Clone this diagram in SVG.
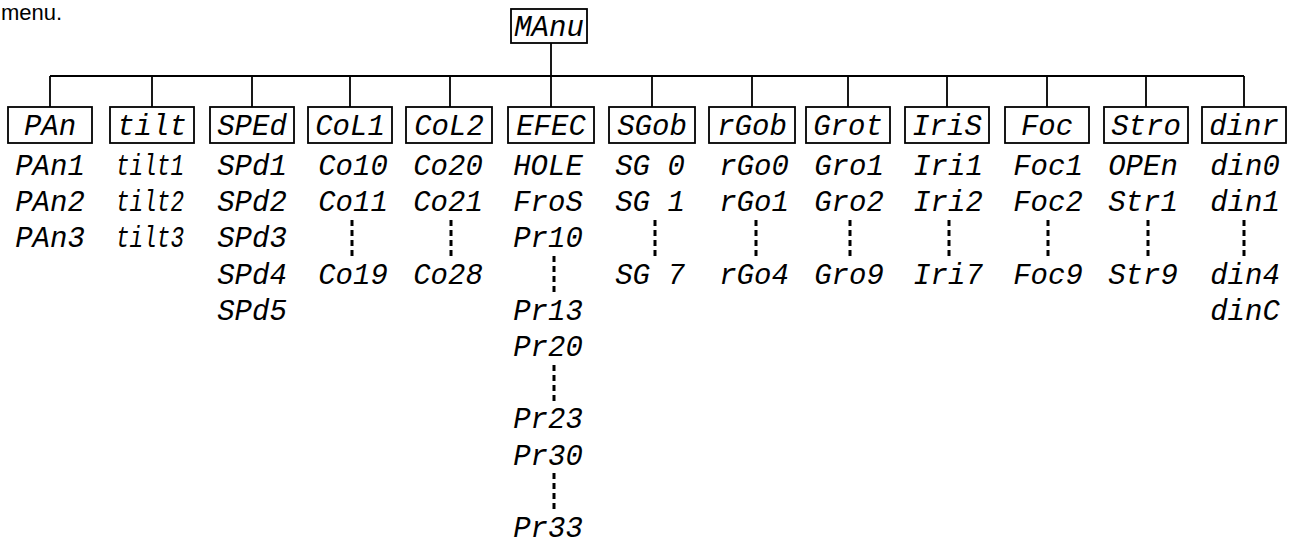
<svg xmlns="http://www.w3.org/2000/svg" width="1289" height="544" viewBox="0 0 1289 544">
<style>
.t{font-family:"Liberation Mono","DejaVu Sans Mono",monospace;font-style:italic;font-size:29px;fill:#000;text-anchor:middle}
.p{font-family:"Liberation Sans",Arial,sans-serif;font-size:22px;fill:#000}
.box{fill:#fff;stroke:#000;stroke-width:1.8}
.ln{stroke:#000;stroke-width:1.8;fill:none}
.dot{stroke:#000;stroke-width:3;stroke-dasharray:6 4;fill:none}
</style>
<rect width="1289" height="544" fill="#fff"/>
<text class="p" x="1" y="20">menu.</text>
<g id="connectors">
<path class="ln" d="M551 43V107M50 76H1244M50 76V107M152 76V107M252 76V107M350 76V107M450 76V107M652 76V107M752 76V107M848 76V107M947 76V107M1047 76V107M1146 76V107M1244 76V107"/>
</g>
<g id="node-manu"><rect class="box" x="511" y="9" width="76" height="34"/><text class="t" x="549" y="36">MAnu</text></g>
<g id="node-pan"><rect class="box" x="8" y="107" width="84" height="36"/><text class="t" x="50" y="135">PAn</text>
<text class="t" x="50" y="175">PAn1</text><text class="t" x="50" y="211.2">PAn2</text><text class="t" x="50" y="247.4">PAn3</text></g>
<g id="node-tilt"><rect class="box" x="110" y="107" width="84" height="36"/><text class="t" x="152" y="135">tilt</text>
<text class="t" x="150" y="175" textLength="68" lengthAdjust="spacingAndGlyphs">tilt1</text><text class="t" x="150" y="211.2" textLength="68" lengthAdjust="spacingAndGlyphs">tilt2</text><text class="t" x="150" y="247.4" textLength="68" lengthAdjust="spacingAndGlyphs">tilt3</text></g>
<g id="node-sped"><rect class="box" x="210" y="107" width="84" height="36"/><text class="t" x="252" y="135">SPEd</text>
<text class="t" x="252" y="175">SPd1</text><text class="t" x="252" y="211.2">SPd2</text><text class="t" x="252" y="247.4">SPd3</text><text class="t" x="252" y="283.6">SPd4</text><text class="t" x="252" y="319.8">SPd5</text></g>
<g id="node-col1"><rect class="box" x="308" y="107" width="84" height="36"/><text class="t" x="350" y="135">CoL1</text>
<text class="t" x="353" y="175">Co10</text><text class="t" x="353" y="211.2">Co11</text><line class="dot" x1="352" y1="220" x2="352" y2="256"/><text class="t" x="353" y="283.6">Co19</text></g>
<g id="node-col2"><rect class="box" x="406" y="107" width="86" height="36"/><text class="t" x="449" y="135">CoL2</text>
<text class="t" x="448" y="175">Co20</text><text class="t" x="448" y="211.2">Co21</text><line class="dot" x1="451" y1="220" x2="451" y2="256"/><text class="t" x="448" y="283.6">Co28</text></g>
<g id="node-efec"><rect class="box" x="508" y="107" width="86" height="36"/><text class="t" x="551" y="135">EFEC</text>
<text class="t" x="548" y="175">HOLE</text><text class="t" x="548" y="211.2">FroS</text><text class="t" x="548" y="247.4">Pr10</text>
<line class="dot" x1="554" y1="256" x2="554" y2="292"/>
<text class="t" x="548" y="319.8">Pr13</text><text class="t" x="548" y="356">Pr20</text>
<line class="dot" x1="554" y1="365" x2="554" y2="401"/>
<text class="t" x="548" y="428.4">Pr23</text><text class="t" x="548" y="464.6">Pr30</text>
<line class="dot" x1="554" y1="473" x2="554" y2="509"/>
<text class="t" x="548" y="537">Pr33</text></g>
<g id="node-sgob"><rect class="box" x="609" y="107" width="86" height="36"/><text class="t" x="652" y="135">SGob</text>
<text class="t" x="650" y="175">SG 0</text><text class="t" x="650" y="211.2">SG 1</text><line class="dot" x1="655" y1="220" x2="655" y2="256"/><text class="t" x="650" y="283.6">SG 7</text></g>
<g id="node-rgob"><rect class="box" x="709" y="107" width="86" height="36"/><text class="t" x="752" y="135">rGob</text>
<text class="t" x="754" y="175">rGo0</text><text class="t" x="754" y="211.2">rGo1</text><line class="dot" x1="756" y1="220" x2="756" y2="256"/><text class="t" x="754" y="283.6">rGo4</text></g>
<g id="node-grot"><rect class="box" x="806" y="107" width="84" height="36"/><text class="t" x="848" y="135">Grot</text>
<text class="t" x="849" y="175">Gro1</text><text class="t" x="849" y="211.2">Gro2</text><line class="dot" x1="850" y1="220" x2="850" y2="256"/><text class="t" x="849" y="283.6">Gro9</text></g>
<g id="node-iris"><rect class="box" x="905" y="107" width="84" height="36"/><text class="t" x="947" y="135">IriS</text>
<text class="t" x="948" y="175">Iri1</text><text class="t" x="948" y="211.2">Iri2</text><line class="dot" x1="949" y1="220" x2="949" y2="256"/><text class="t" x="948" y="283.6">Iri7</text></g>
<g id="node-foc"><rect class="box" x="1005" y="107" width="84" height="36"/><text class="t" x="1047" y="135">Foc</text>
<text class="t" x="1048" y="175">Foc1</text><text class="t" x="1048" y="211.2">Foc2</text><line class="dot" x1="1048" y1="220" x2="1048" y2="256"/><text class="t" x="1048" y="283.6">Foc9</text></g>
<g id="node-stro"><rect class="box" x="1104" y="107" width="84" height="36"/><text class="t" x="1146" y="135">Stro</text>
<text class="t" x="1143" y="175">OPEn</text><text class="t" x="1143" y="211.2">Str1</text><line class="dot" x1="1148" y1="220" x2="1148" y2="256"/><text class="t" x="1143" y="283.6">Str9</text></g>
<g id="node-dinr"><rect class="box" x="1202" y="107" width="84" height="36"/><text class="t" x="1244" y="135">dinr</text>
<text class="t" x="1245" y="175">din0</text><text class="t" x="1245" y="211.2">din1</text><line class="dot" x1="1244" y1="220" x2="1244" y2="256"/><text class="t" x="1245" y="283.6">din4</text><text class="t" x="1245" y="319.8">dinC</text></g>
</svg>
